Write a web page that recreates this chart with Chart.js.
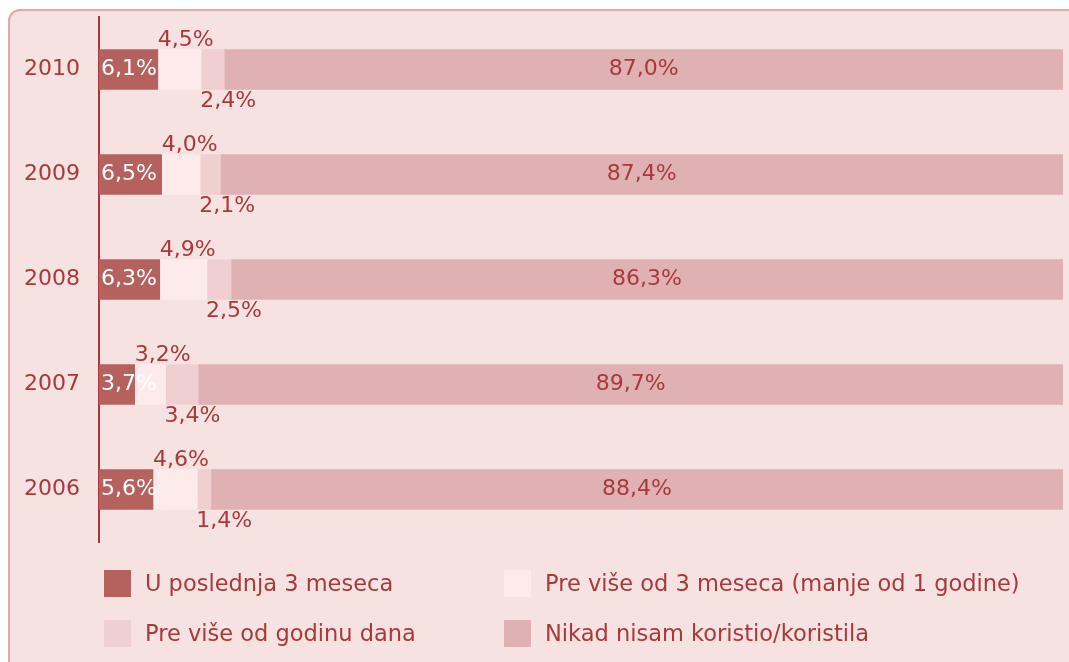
<!DOCTYPE html>
<html lang="sr">
<head>
<meta charset="UTF-8">
<title>Korišćenje</title>
<script src="https://cdn.jsdelivr.net/npm/chart.js"></script>
<style>
    body { margin: 0; background: #ffffff; font-family: 'DejaVu Sans', sans-serif; }
    .panel {
        position: absolute; left: 8px; top: 9px; width: 1100px; height: 700px;
        background: #f7e2e2; border: 2px solid #e0a9a9; border-radius: 12px;
    }
    #wrap { position: absolute; left: 0; top: 0; width: 1069px; height: 662px; }
    .legend { position: absolute; left: 0; top: 0; width: 1069px; height: 662px; color: #a8393b; font-size: 22.5px; }
    .legend .item { position: absolute; display: flex; align-items: center; height: 28px; }
    .legend .box { width: 27px; height: 27px; margin-right: 14px; }
</style>
</head>
<body>
<div class="panel"></div>
<div id="wrap"><canvas id="chart" width="1069" height="662"></canvas></div>
<div class="legend" id="legend"></div>
<script>
    // data
    const years = ['2010', '2009', '2008', '2007', '2006'];
    const last3Months = [6.1, 6.5, 6.3, 3.7, 5.6];
    const over3Months = [4.5, 4.0, 4.9, 3.2, 4.6];
    const overOneYear = [2.4, 2.1, 2.5, 3.4, 1.4];
    const neverUsed = [87.0, 87.4, 86.3, 89.7, 88.4];
    const seriesNames = [
        'U poslednja 3 meseca',
        'Pre više od 3 meseca (manje od 1 godine)',
        'Pre više od godinu dana',
        'Nikad nisam koristio/koristila'
    ];
    const colors = ['#b5625f', '#fcebea', '#efcfcf', '#e0b1b3'];
    const textColor = '#a8393b';
    const font = "'DejaVu Sans', sans-serif";

    const fmt = v => v.toFixed(1).replace('.', ',') + '%';

    // value labels: inside for 1st and 4th, above for 2nd, below for 3rd
    const barLabels = {
        id: 'barLabels',
        afterDatasetsDraw(chart) {
            const ctx = chart.ctx;
            ctx.save();
            ctx.font = '22px ' + font;
            ctx.textBaseline = 'middle';
            chart.data.datasets.forEach((ds, i) => {
                const meta = chart.getDatasetMeta(i);
                meta.data.forEach((bar, j) => {
                    const p = bar.getProps(['x', 'y', 'base', 'height']);
                    const txt = fmt(ds.data[j]);
                    const top = p.y - p.height / 2, bottom = p.y + p.height / 2;
                    if (i === 0) {
                        ctx.fillStyle = '#ffffff';
                        ctx.textAlign = 'left';
                        ctx.fillText(txt, p.base + 2, p.y);
                    } else if (i === 1) {
                        ctx.fillStyle = textColor;
                        ctx.textAlign = 'left';
                        ctx.fillText(txt, p.base, top - 9);
                    } else if (i === 2) {
                        ctx.fillStyle = textColor;
                        ctx.textAlign = 'left';
                        ctx.fillText(txt, p.base - 1, bottom + 12);
                    } else {
                        ctx.fillStyle = textColor;
                        ctx.textAlign = 'center';
                        ctx.fillText(txt, (p.base + p.x) / 2, p.y);
                    }
                });
            });
            ctx.restore();
        }
    };

    const seriesData = [last3Months, over3Months, overOneYear, neverUsed];

    new Chart(document.getElementById('chart'), {
        type: 'bar',
        data: {
            labels: years,
            datasets: seriesData.map((d, i) => ({
                label: seriesNames[i],
                data: d,
                backgroundColor: colors[i],
                borderWidth: 0,
                barThickness: 40
            }))
        },
        options: {
            indexAxis: 'y',
            responsive: false,
            animation: false,
            layout: { padding: { left: 0, right: 6, top: 17, bottom: 120 } },
            plugins: { legend: { display: false }, tooltip: { enabled: false } },
            scales: {
                x: { stacked: true, min: 0, max: 100, display: false },
                y: {
                    stacked: true,
                    afterFit(scale) {
                        scale.width = 99;
                        // tick padding should not push the plot area down
                        scale.paddingTop = 0;
                        scale.paddingBottom = 0;
                    },
                    grid: { display: false, drawTicks: false },
                    border: { display: true, color: textColor, width: 2 },
                    ticks: { color: textColor, padding: 19, font: { family: font, size: 22 } }
                }
            }
        },
        plugins: [barLabels]
    });

    // legend in two columns, like the original
    const legendPos = [[104, 569], [504, 569], [104, 619], [504, 619]];
    const legend = document.getElementById('legend');
    seriesNames.forEach((name, i) => {
        const el = document.createElement('div');
        el.className = 'item';
        el.style.left = legendPos[i][0] + 'px';
        el.style.top = legendPos[i][1] + 'px';
        el.innerHTML = '<span class="box" style="background:' + colors[i] + '"></span><span>' + name + '</span>';
        legend.appendChild(el);
    });
</script>
</body>
</html>
